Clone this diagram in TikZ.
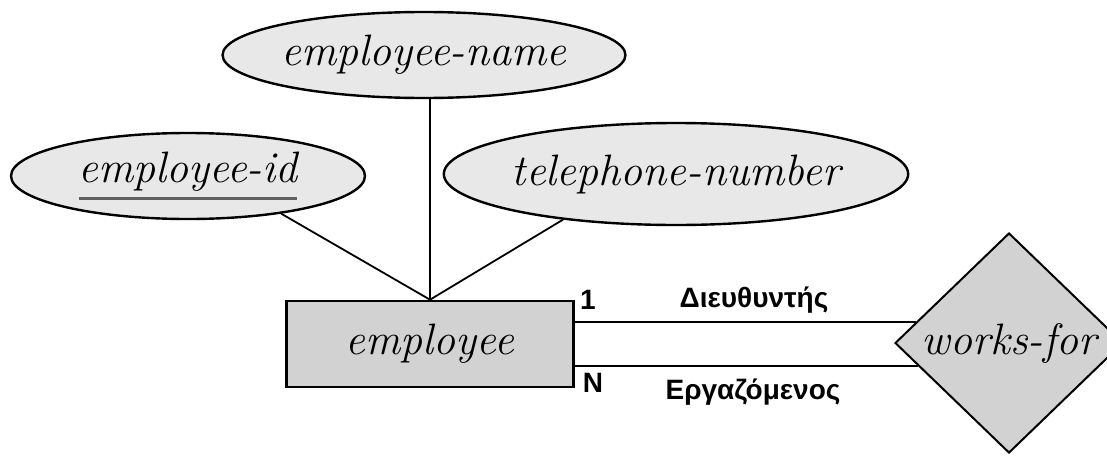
\documentclass[tikz,border=0pt]{standalone}
\usepackage{fontspec}
\newfontfamily\grfont{Liberation Sans}
\usetikzlibrary{shapes.geometric,calc}

% key attribute: thick grey underline
\newcommand\keyline[1]{\setbox0\hbox{#1}\rlap{\color{gray!75!black}\rule[-9pt]{\wd0}{1.8pt}}\box0}

\tikzset{
    attr/.style={ellipse, draw=black, line width=1.2pt, fill=gray!18, inner sep=0pt,
        font=\fontsize{22}{26}\selectfont\itshape},
    entity/.style={rectangle, draw=black, line width=1.3pt, fill=gray!35, inner sep=0pt,
        font=\fontsize{22}{26}\selectfont\itshape},
    relship/.style={diamond, draw=black, line width=1pt, fill=gray!35, inner sep=0pt,
        font=\fontsize{22}{26}\selectfont\itshape},
    role/.style={font=\grfont\bfseries\fontsize{14}{16}\selectfont},
}

\begin{document}
\begin{tikzpicture}[x=0.5pt,y=-0.5pt]
    \useasboundingbox (0,0) rectangle (1107,455);

    % attributes
    \node[attr, minimum width=175pt, minimum height=43pt] (ename) at (424,55) {employee-name};
    \node[attr, minimum width=177pt, minimum height=43pt] (eid) at (188,176) {\keyline{employee-id}};
    \node[attr, minimum width=200pt, minimum height=51pt] (ephone) at (676,174) {telephone-number};

    % entity and relationship
    \node[entity, minimum width=143.5pt, minimum height=43pt] (emp) at (430,344) {employee};
    \node[relship, minimum width=114pt, minimum height=110pt] (rel) at (1009,343) {works-for};

    \draw[line width=0.8pt] (ename.south -| emp.north) -- (emp.north);
    \draw[line width=0.9pt] (eid.-22) -- (emp.north);
    \draw[line width=0.9pt] (ephone.-158) -- (emp.north);

    % the two roles
    \coordinate (rtop) at ($(rel.west)!0.19!(rel.north)$);
    \coordinate (rbot) at ($(rel.west)!0.21!(rel.south)$);
    \draw[line width=1pt] (emp.east |- rtop) -- (rtop);
    \draw[line width=1pt] (emp.east |- rbot) -- (rbot);

    \node[role] (one) at (588,300) {1};
    \node[role] (many) at (593,383) {N};
    \node[role] (boss) at (754,300) {Διευθυντής};
    \node[role] (staff) at (753,392) {Εργαζόμενος};
\end{tikzpicture}
\end{document}
